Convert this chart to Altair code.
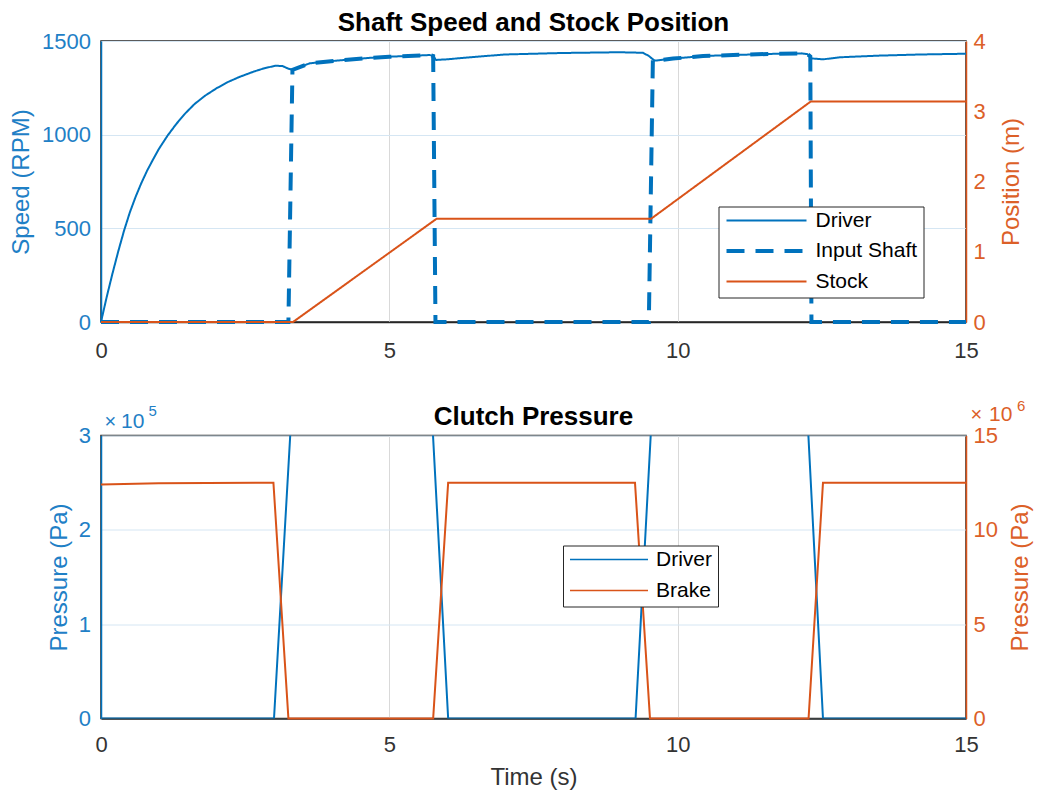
import altair as alt
import pandas as pd

# ---------------- data ----------------
# Top panel: shaft speeds (RPM, left axis) and stock position (m, right axis)
driver_t = [0.0, 0.1, 0.2, 0.3, 0.4, 0.5, 0.6, 0.7, 0.8, 0.9, 1.0, 1.15, 1.3, 1.45,
            1.62, 1.8, 2.0, 2.2, 2.4, 2.66, 2.85, 3.03, 3.15, 3.25, 3.32, 3.40, 3.62,
            4.08, 4.66, 5.00, 5.70, 5.76, 5.81, 5.99, 6.40, 7.00, 8.00, 9.00, 9.40,
            9.50, 9.60, 9.92, 10.44, 11.60, 12.15, 12.25, 12.32, 12.52, 12.81, 13.50,
            14.20, 15.00]
driver_rpm = [0, 135, 260, 378, 488, 585, 668, 742, 808, 866, 922, 993, 1055, 1110,
              1163, 1207, 1247, 1281, 1308, 1338, 1356, 1368, 1366, 1352, 1346, 1355, 1381,
              1395, 1410, 1416, 1425, 1420, 1399, 1402, 1413, 1428, 1436, 1440, 1437,
              1420, 1395, 1406, 1420, 1431, 1434, 1430, 1407, 1402, 1413, 1422,
              1428, 1432]

shaft_t = [0.0, 3.25, 3.32, 3.40, 3.62, 4.08, 4.66, 5.00, 5.70, 5.76, 5.80,
           9.50, 9.57, 9.60, 9.92, 10.44, 11.60, 12.15, 12.25, 12.30, 12.32, 15.0]
shaft_rpm = [0, 0, 1346, 1355, 1381, 1395, 1410, 1416, 1425, 1420, 0,
             0, 1398, 1395, 1406, 1420, 1431, 1434, 1430, 1418, 0, 0]

stock_t = [0.0, 3.33, 5.82, 9.54, 12.31, 15.0]
stock_m = [0.0, 0.0, 1.47, 1.47, 3.14, 3.14]

# Bottom panel: clutch pressures (Pa)
drvp_t = [0.0, 3.00, 3.30, 5.74, 6.02, 9.27, 9.55, 12.25, 12.52, 15.0]
drvp_pa = [0, 0, 3.2e5, 3.2e5, 0, 0, 3.2e5, 3.2e5, 0, 0]

brake_t = [0.0, 1.0, 2.99, 3.25, 5.76, 6.02, 9.26, 9.52, 12.27, 12.52, 15.0]
brake_pa = [12.4e6, 12.47e6, 12.5e6, 0, 0, 12.5e6, 12.5e6, 0, 0, 12.5e6, 12.5e6]

top_series = ["Driver", "Input Shaft", "Stock"]
bottom_series = ["Driver", "Brake"]
x_ticks = [0, 5, 10, 15]
speed_ticks = [0, 500, 1000, 1500]
pos_ticks = [0, 1, 2, 3, 4]
p_left_ticks = [0, 1e5, 2e5, 3e5]
p_right_ticks = [0, 5e6, 10e6, 15e6]

# ---------------- styles ----------------
BLUE = "#0072BD"
ORANGE = "#D95319"
BLUE_TXT = "#1f80c6"
ORANGE_TXT = "#dc6028"
GRAY_TXT = "#333333"
GRID_X = "#d9d9d9"
GRID_Y = "#d5e6f3"
FONT = "Liberation Sans"

df_speed = pd.concat([
    pd.DataFrame({"t": driver_t, "rpm": driver_rpm, "series": "Driver"}),
    pd.DataFrame({"t": shaft_t, "rpm": shaft_rpm, "series": "Input Shaft"}),
], ignore_index=True)
df_stock = pd.DataFrame({"t": stock_t, "pos": stock_m, "series": "Stock"})
df_drvp = pd.DataFrame({"t": drvp_t, "p": drvp_pa, "clutch": "Driver"})
df_brake = pd.DataFrame({"t": brake_t, "p": brake_pa, "clutch": "Brake"})


def make_legend(lx, ly, length, row_pad):
    return alt.Legend(title=None, orient="none", legendX=lx, legendY=ly,
                      symbolType="stroke", symbolSize=length * length,
                      clipHeight=16, rowPadding=row_pad, padding=6,
                      labelOffset=7, labelFontSize=21, labelFont=FONT,
                      labelColor="#000000", strokeColor="#262626",
                      fillColor="#ffffff")


def x_enc(show_title):
    ax = dict(values=x_ticks, grid=True, gridColor=GRID_X, domainColor="#262626",
              domainWidth=1.5, labelColor=GRAY_TXT, labelFontSize=22, labelFont=FONT,
              ticks=False, tickSize=0, labelFlush=False, format="d")
    if show_title:
        ax.update(title="Time (s)", titleFontSize=24, titleFontWeight="normal",
                  titleColor=GRAY_TXT, titlePadding=10, titleFont=FONT, labelPadding=16)
    else:
        ax.update(title=None, labelPadding=18)
    return alt.X("t:Q", scale=alt.Scale(domain=[0, 15], nice=False, zero=False),
                 axis=alt.Axis(**ax))


def y_axis(side, values, title, color_txt, color_line, label_pad, title_pad, label_expr=None):
    ax = dict(orient=side, values=values, title=title, titleColor=color_txt,
              labelColor=color_txt, domainColor=color_line, domainWidth=1.5,
              ticks=False, tickSize=0, labelPadding=label_pad, titlePadding=title_pad,
              labelFontSize=22, titleFontSize=24, titleFontWeight="normal",
              labelFont=FONT, titleFont=FONT)
    if side == "left":
        ax.update(grid=True, gridColor=GRID_Y)
    else:
        ax.update(grid=False, titleAngle=270, titleBaseline="top")
    if label_expr:
        ax.update(labelExpr=label_expr)
    else:
        ax.update(format="d")
    return alt.Axis(**ax)


# ---------------- top panel ----------------
leg_top = make_legend(617.5, 165.5, 80, 9.5)
col_top = alt.Color("series:N", scale=alt.Scale(domain=top_series, range=[BLUE, BLUE, ORANGE]),
                    legend=leg_top)
dash_top = alt.StrokeDash("series:N", scale=alt.Scale(domain=top_series,
                                                      range=[[1, 0], [18, 11], [1, 0]]),
                          legend=leg_top)
width_top = alt.StrokeWidth("series:N", scale=alt.Scale(type="ordinal", domain=top_series,
                                                        range=[2, 4, 2]),
                            legend=leg_top)

speed_lines = alt.Chart(df_speed).mark_line().encode(
    x=x_enc(False),
    y=alt.Y("rpm:Q", scale=alt.Scale(domain=[0, 1500], nice=False),
            axis=y_axis("left", speed_ticks, "Speed (RPM)", BLUE_TXT, BLUE, 10.5, 8.5)),
    color=col_top, strokeDash=dash_top, strokeWidth=width_top,
)
stock_line = alt.Chart(df_stock).mark_line().encode(
    x=x_enc(False),
    y=alt.Y("pos:Q", scale=alt.Scale(domain=[0, 4], nice=False),
            axis=y_axis("right", pos_ticks, "Position (m)", ORANGE_TXT, ORANGE, 7, 14)),
    color=col_top, strokeDash=dash_top, strokeWidth=width_top,
)
top = alt.layer(speed_lines, stock_line).resolve_scale(y="independent").properties(
    width=865, height=281,
    title=alt.TitleParams("Shaft Speed and Stock Position", offset=-5.6),
)

# ---------------- bottom panel ----------------
leg_bot = make_legend(462, 110, 78, 10)
col_bot = alt.Color("clutch:N", scale=alt.Scale(domain=bottom_series, range=[BLUE, ORANGE]),
                    legend=leg_bot)

one = pd.DataFrame({"k": [0]})


def annot(txt, xv, yv, dx, dy, size, color):
    return alt.Chart(one).mark_text(text=txt, align="left", baseline="alphabetic", dx=dx, dy=dy,
                                    fontSize=size, color=color, font=FONT).encode(
        x=alt.datum(xv), y=alt.datum(yv))


drvp_line = alt.Chart(df_drvp).mark_line(clip=True, strokeWidth=2).encode(
    x=x_enc(True),
    y=alt.Y("p:Q", scale=alt.Scale(domain=[0, 3e5], nice=False),
            axis=y_axis("left", p_left_ticks, "Pressure (Pa)", BLUE_TXT, BLUE, 10.5, 7,
                        "datum.value / 100000")),
    color=col_bot,
)
left_bot = alt.layer(
    drvp_line,
    annot("×", 0, 3e5, 3.5, -8, 20, BLUE_TXT),
    annot("10", 0, 3e5, 20, -8, 21, BLUE_TXT),
    annot("5", 0, 3e5, 47.5, -19.5, 15, BLUE_TXT),
)

brake_line = alt.Chart(df_brake).mark_line(strokeWidth=2).encode(
    x=x_enc(True),
    y=alt.Y("p:Q", scale=alt.Scale(domain=[0, 15e6], nice=False),
            axis=y_axis("right", p_right_ticks, "Pressure (Pa)", ORANGE_TXT, ORANGE, 7, 11.5,
                        "datum.value / 1000000")),
    color=col_bot,
)
right_bot = alt.layer(
    brake_line,
    annot("×", 15, 15e6, 4.5, -15, 20, ORANGE_TXT),
    annot("10", 15, 15e6, 23, -15, 21, ORANGE_TXT),
    annot("6", 15, 15e6, 51, -25, 15, ORANGE_TXT),
)

bottom = alt.layer(left_bot, right_bot).resolve_scale(y="independent").properties(
    width=865, height=283,
    title=alt.TitleParams("Clutch Pressure", offset=-31.5),
)

chart = alt.vconcat(top, bottom, spacing=35.5).resolve_scale(
    color="independent", strokeDash="independent", strokeWidth="independent"
).properties(padding=0).configure(font=FONT).configure_view(
    stroke="#262626", strokeWidth=1.5
).configure_title(
    font=FONT, fontSize=26, fontWeight="bold", color="#000000", anchor="middle", frame="group"
)

chart.save("out.html", embed_options={"renderer": "svg", "actions": False})
